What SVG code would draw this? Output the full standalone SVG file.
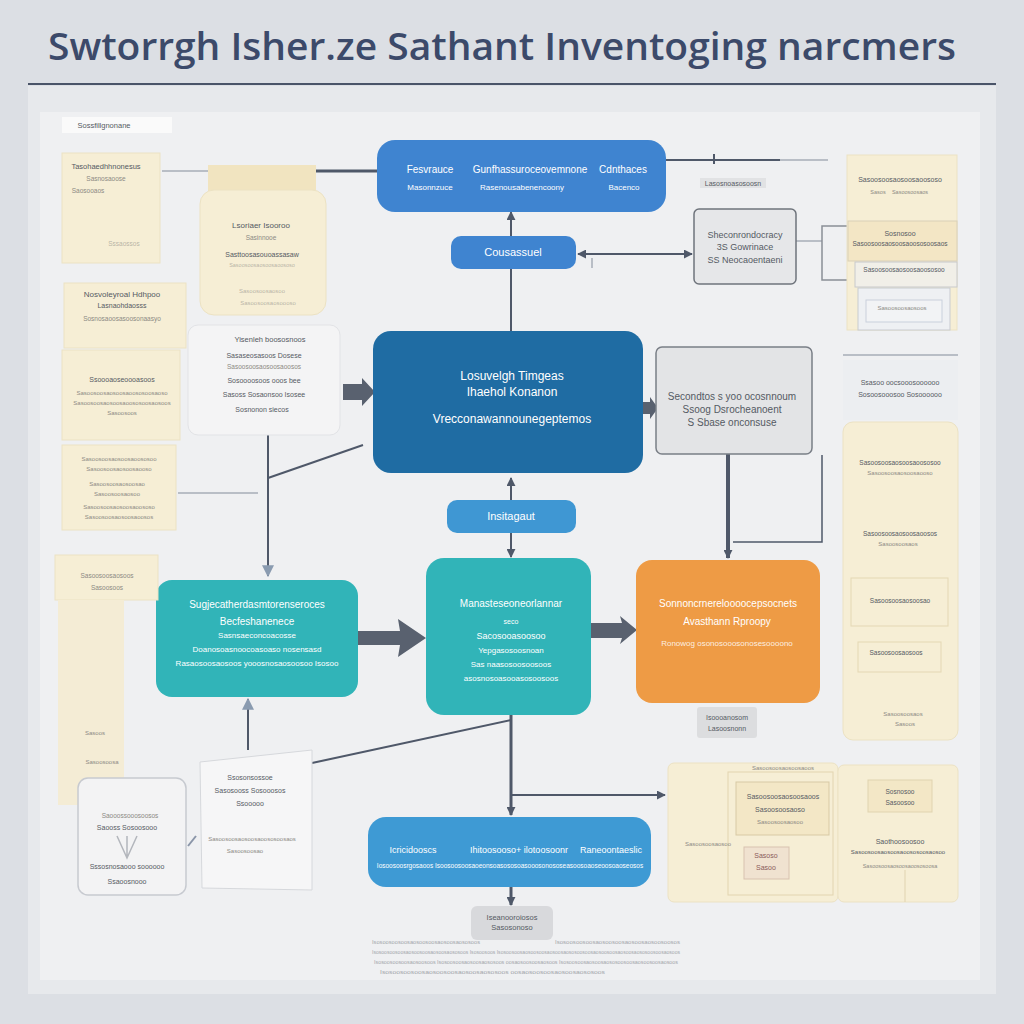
<svg xmlns="http://www.w3.org/2000/svg" width="1024" height="1024" viewBox="0 0 1024 1024">
<defs>
<marker id="ah" viewBox="0 0 10 10" refX="9" refY="5" markerWidth="9" markerHeight="9" markerUnits="userSpaceOnUse" orient="auto-start-reverse"><path d="M0,0 L10,5 L0,10 Z" fill="#4f5869"/></marker>
<marker id="ahl" viewBox="0 0 10 10" refX="9" refY="5" markerWidth="12" markerHeight="12" markerUnits="userSpaceOnUse" orient="auto-start-reverse"><path d="M0,0 L10,5 L0,10 Z" fill="#8a9bb0"/></marker>
</defs>
<style>
.w{font-family:"Liberation Sans",Arial,sans-serif;fill:#ffffff;text-anchor:middle}
.d{font-family:"Liberation Sans",Arial,sans-serif;fill:#555a63;text-anchor:middle}
.f{font-family:"Liberation Sans",Arial,sans-serif;fill:#8c8a84;text-anchor:middle}
.cream{fill:#f6eed5;stroke:#ece2c3;stroke-width:1}
.pale{fill:#f4f4f5;stroke:#e2e3e6;stroke-width:1}
.ln{stroke:#4f5869;stroke-width:2;fill:none}
.lnf{stroke:#b9bec6;stroke-width:2;fill:none}
.blk{fill:#59616f}
</style>
<rect width="1024" height="1024" fill="#dcdfe4"/>
<text x="48" y="60" font-family="'Open Sans','Liberation Sans',sans-serif" font-weight="600" font-size="38" fill="#3c4a6a" textLength="908" lengthAdjust="spacingAndGlyphs">Swtorrgh Isher.ze Sathant Inventoging narcmers</text>
<line x1="28" y1="84" x2="996" y2="84" stroke="#4a5468" stroke-width="2"/>
<rect x="28" y="86" width="968" height="908" fill="#e7e9ec"/>
<rect x="40" y="112" width="940" height="868" fill="#eff0f2"/>

<g id="connectors">
<line class="lnf" x1="162" y1="171" x2="320" y2="171"/>
<line x1="316" y1="171" x2="377" y2="171" stroke="#4f5869" stroke-width="3"/>
<line class="ln" x1="666" y1="160" x2="780" y2="160"/>
<line class="lnf" x1="780" y1="160" x2="828" y2="160"/>
<line class="ln" x1="714" y1="154" x2="714" y2="164"/>
<line class="ln" x1="511" y1="236" x2="511" y2="212" marker-end="url(#ah)" stroke-width="3"/>
<line class="ln" x1="511" y1="269" x2="511" y2="331" stroke-width="3"/>
<line class="ln" x1="578" y1="254" x2="692" y2="254" marker-start="url(#ah)" marker-end="url(#ah)"/>
<line x1="592" y1="258" x2="592" y2="268" stroke="#b9bec6" stroke-width="2"/>
<polyline class="lnf" points="796,241 822,241"/>
<polyline points="850,226 822,226 822,280 850,280" fill="none" stroke="#8b8f96" stroke-width="1.5"/>
<polygon class="blk" points="343,384 362,384 362,378 375,392 362,406 362,400 343,400"/>
<polygon class="blk" points="643,402 650,402 650,397 658,408 650,419 650,414 643,414"/>
<line class="ln" x1="268" y1="435" x2="268" y2="576" marker-end="url(#ahl)"/>
<line class="ln" x1="268" y1="478" x2="363" y2="445"/>
<line class="lnf" x1="178" y1="493" x2="258" y2="493"/>
<line class="ln" x1="511" y1="500" x2="511" y2="478" marker-end="url(#ah)"/>
<line class="ln" x1="511" y1="533" x2="511" y2="557" marker-end="url(#ah)"/>
<polygon class="blk" points="358,631 400,631 398,619 426,638 398,657 400,645 358,645"/>
<polygon class="blk" points="591,623 622,623 620,616 637,630 620,644 622,638 591,638"/>
<line x1="728" y1="454" x2="728" y2="558" stroke="#4f5869" stroke-width="4" marker-end="url(#ah)"/>
<polyline points="822,455 822,542 733,542" fill="none" stroke="#4f5869" stroke-width="1.5"/>
<line x1="248" y1="750" x2="248" y2="699" stroke="#4f5869" stroke-width="2" marker-end="url(#ahl)"/>
<line class="ln" x1="312" y1="763" x2="511" y2="720"/>
<line x1="511" y1="715" x2="511" y2="815" stroke="#4f5869" stroke-width="3" marker-end="url(#ah)"/>
<line class="ln" x1="511" y1="795" x2="665" y2="795" marker-end="url(#ah)"/>
<line x1="511" y1="887" x2="511" y2="905" stroke="#4f5869" stroke-width="3" marker-end="url(#ah)"/>
<line x1="196" y1="836" x2="188" y2="846" stroke="#8a95a8" stroke-width="2"/>
<line class="lnf" x1="843" y1="355" x2="958" y2="355" stroke="#7b8290"/>
</g>

<g id="n-top">
<rect x="377" y="140" width="289" height="72" rx="18" fill="#3f84d0"/>
<text class="w" x="430" y="173" font-size="10">Fesvrauce</text>
<text class="w" x="530" y="173" font-size="10">Gunfhassuroceovemnone</text>
<text class="w" x="623" y="173" font-size="10">Cdnthaces</text>
<text class="w" x="430" y="190" font-size="8">Masonnzuce</text>
<text class="w" x="522" y="190" font-size="8">Rasenousabenencoony</text>
<text class="w" x="624" y="190" font-size="8">Bacenco</text>
</g>
<g id="n-pill1">
<rect x="451" y="236" width="125" height="33" rx="10" fill="#3f84d0"/>
<text class="w" x="513" y="256" font-size="11">Cousassuel</text>
</g>
<g id="n-center">
<rect x="373" y="331" width="270" height="142" rx="18" fill="#1f6ca3"/>
<text class="w" x="512" y="380" font-size="12">Losuvelgh Timgeas</text>
<text class="w" x="512" y="396" font-size="12">Ihaehol Konanon</text>
<text class="w" x="512" y="423" font-size="12">Vrecconawannounegeptemos</text>
</g>
<g id="n-pill2">
<rect x="447" y="500" width="129" height="33" rx="10" fill="#3f97d3"/>
<text class="w" x="511" y="520" font-size="11">Insitagaut</text>
</g>
<g id="n-teal1">
<rect x="156" y="580" width="202" height="117" rx="16" fill="#31b4b8"/>
<text class="w" x="257" y="608" font-size="10">Sugjecatherdasmtorenseroces</text>
<text class="w" x="257" y="625" font-size="10">Becfeshanenece</text>
<text class="w" x="257" y="638" font-size="8">Sasnsaeconcoacosse</text>
<text class="w" x="257" y="652" font-size="8">Doanosoasnoocoasoaso nosensasd</text>
<text class="w" x="257" y="666" font-size="8">Rasaosoosaosoos yooosnosaosoosoo Isosoo</text>
</g>
<g id="n-teal2">
<rect x="426" y="558" width="165" height="157" rx="18" fill="#31b4b8"/>
<text class="w" x="511" y="607" font-size="10">Manasteseoneorlannar</text>
<text class="w" x="511" y="624" font-size="7">seco</text>
<text class="w" x="511" y="639" font-size="9">Sacosooasoosoo</text>
<text class="w" x="511" y="653" font-size="8">Yepgasosoosnoan</text>
<text class="w" x="511" y="667" font-size="8">Sas naasosoosoosoos</text>
<text class="w" x="511" y="681" font-size="8">asosnosoasooasosoosoos</text>
</g>
<g id="n-orange">
<rect x="636" y="560" width="184" height="143" rx="16" fill="#ee9b45"/>
<text class="w" x="728" y="607" font-size="10">Sonnoncrnereloooocepsocnets</text>
<text class="w" x="727" y="625" font-size="10">Avasthann Rproopy</text>
<text class="w" x="727" y="646" font-size="8" fill-opacity="0.85">Ronowog osonosooosonosesoooono</text>
</g>
<g id="n-bottom">
<rect x="368" y="817" width="283" height="70" rx="18" fill="#3e9ad4"/>
<text class="w" x="413" y="853" font-size="9">Icricidooscs</text>
<text class="w" x="519" y="853" font-size="9">Ihitoosooso+ ilotoosoonr</text>
<text class="w" x="611" y="853" font-size="9">Raneoontaeslic</text>
<text class="w" x="510" y="868" font-size="6.5">Iosoosoosrgosaoos  Isoosoosoosaoeonsoasososoasooosonososeasoosoaoseoosoaoseosos</text>
</g>
<g id="n-bottomlabel">
<rect x="471" y="906" width="82" height="34" rx="6" fill="#d8d9dc"/>
<text class="d" x="512" y="920" font-size="7.5">Iseanooroiosos</text>
<text class="d" x="512" y="930" font-size="7.5">Sasosonoso</text>
</g>
<g id="n-notes">
<g font-family="'Liberation Sans',sans-serif" font-size="6" fill="#a3a6ab">
<text x="372" y="944" textLength="108" lengthAdjust="spacingAndGlyphs">Isosoosoosoosaosoosoosaosoosaososoos</text>
<text x="555" y="944" textLength="125" lengthAdjust="spacingAndGlyphs">Isosoosoosoosaosoosoosaosoosaosoosoosos</text>
<text x="372" y="954" textLength="308" lengthAdjust="spacingAndGlyphs">Isosoosoosoosaosoosoosaosoosaososoos Isosoosoos Isosoosoosaosoosoosaosoosaososoosoosaosoosoosaosoosaososoosoosaosoos</text>
<text x="374" y="964" textLength="304" lengthAdjust="spacingAndGlyphs">Isosoosoosoosaosoosoos Isosoosoosaosoosaososoos oosaosoosoosaosoos Isosoosoosaosoosaososoosoosaosoosoosaosoos</text>
<text x="380" y="974" textLength="225" lengthAdjust="spacingAndGlyphs">Isosoosoosoosaosoosoosaosoosaososoos oosaosoosoosaosoosaososoos</text>
</g>
</g>
<g id="n-grayA">
<rect x="694" y="209" width="102" height="75" rx="5" fill="#e6e7e9" stroke="#6f747c" stroke-width="1.5"/>
<text class="d" x="745" y="238" font-size="9">Sheconrondocracy</text>
<text class="d" x="745" y="250" font-size="9">3S Gowrinace</text>
<text class="d" x="745" y="263" font-size="9">SS Neocaoentaeni</text>
</g>
<g id="n-label-r">
<rect x="700" y="178" width="66" height="10" fill="#e1e2e4"/>
<text class="d" x="733" y="186" font-size="7">Lasosnoasosoosn</text>
</g>
<g id="n-grayB">
<rect x="656" y="347" width="156" height="107" rx="6" fill="#e3e4e6" stroke="#7a7f87" stroke-width="1.5"/>
<text class="d" x="732" y="400" font-size="10">Secondtos s yoo ocosnnoum</text>
<text class="d" x="732" y="413" font-size="10">Ssoog Dsrocheanoent</text>
<text class="d" x="732" y="426" font-size="10">S Sbase onconsuse</text>
</g>
<g id="n-orangelabel">
<rect x="697" y="707" width="60" height="31" rx="3" fill="#dcdddf"/>
<text class="d" x="727" y="720" font-size="7">Isoooanosom</text>
<text class="d" x="727" y="731" font-size="7">Lasoosnonn</text>
</g>

<g id="n-leftlabel">
<rect x="62" y="117" width="110" height="16" fill="#fafafa"/>
<text class="d" x="104" y="128" font-size="7.5">Sossfillgnonane</text>
</g>
<g id="n-creamA">
<rect class="cream" x="62" y="153" width="98" height="110"/>
<text class="d" x="106" y="169" font-size="7.5">Tasohaedhhnonesus</text>
<text class="f" x="106" y="181" font-size="6.5">Sasnosaoose</text>
<text class="f" x="88" y="193" font-size="6.5">Saosooaos</text>
<text class="f" x="124" y="246" font-size="6.5" fill-opacity="0.6">Sssaossos</text>
</g>
<g id="n-creamB">
<rect x="208" y="165" width="108" height="28" fill="#f1e4c0"/>
<rect class="cream" x="200" y="190" width="126" height="125" rx="14"/>
<text class="d" x="261" y="228" font-size="8">Lsoriaer Isooroo</text>
<text class="f" x="261" y="240" font-size="6.5">Sasinnooe</text>
<text class="d" x="262" y="257" font-size="7">Sasttoosasouoassasaw</text>
<text class="f" x="262" y="267" font-size="5.5" fill-opacity="0.6">Sasoosoosaosoosaoososo</text>
<text class="f" x="262" y="293" font-size="6" fill-opacity="0.6">Sasoosoosaosoo</text>
<text class="f" x="268" y="305" font-size="6" fill-opacity="0.6">Sasoosoosaosoooso</text>
</g>
<g id="n-creamC">
<rect class="cream" x="64" y="283" width="122" height="65"/>
<text class="d" x="122" y="297" font-size="8">Nosvoleyroal Hdhpoo</text>
<text class="d" x="122" y="308" font-size="7">Lasnaohdaosss</text>
<text class="f" x="122" y="321" font-size="6.5">Sosnosaoosasoosonaasyo</text>
</g>
<g id="n-creamD">
<rect class="cream" x="62" y="350" width="118" height="90"/>
<text class="d" x="122" y="382" font-size="7">Ssoooaoseoooasoos</text>
<text class="f" x="122" y="395" font-size="6">Sasoosoosaosoosaoososoosaoso</text>
<text class="f" x="122" y="405" font-size="6">Sasoosoosaosoosaoososoosaosoos</text>
<text class="f" x="122" y="415" font-size="6">Sasoosoos</text>
</g>
<g id="n-creamE">
<rect class="cream" x="62" y="445" width="114" height="85"/>
<text class="f" x="119" y="461" font-size="6">Sasoosoosaosoosaoososoo</text>
<text class="f" x="119" y="471" font-size="6">Sasoosoosaosoosaooso</text>
<text class="f" x="117" y="486" font-size="6">Sasoosoosaosoosao</text>
<text class="f" x="117" y="496" font-size="6">Sasoosoosaosoo</text>
<text class="f" x="119" y="509" font-size="6">Sasoosoosaosoosaoososo</text>
<text class="f" x="119" y="519" font-size="6">Sasoosoosaosoosaoosos</text>
</g>
<g id="n-whiteF">
<rect class="pale" x="188" y="325" width="152" height="110" rx="10"/>
<text class="d" x="270" y="342" font-size="7.5">Yisenleh boososnoos</text>
<text class="d" x="264" y="358" font-size="7">Sasaseosasoos Dosese</text>
<text class="f" x="264" y="369" font-size="6.5">Sasoosoosaosoosaoosos</text>
<text class="d" x="264" y="383" font-size="7">Sosoooosoos ooos bee</text>
<text class="d" x="264" y="397" font-size="7">Sasoss Sosaonsoo Isosee</text>
<text class="d" x="262" y="412" font-size="7">Sosnonon siecos</text>
</g>
<g id="n-creamG">
<rect class="cream" x="55" y="555" width="103" height="45"/>
<rect x="58" y="600" width="66" height="205" fill="#f4ecd5"/>
<text class="f" x="107" y="578" font-size="6.5">Sasoosoosaosoos</text>
<text class="f" x="107" y="590" font-size="6.5">Sasoosoos</text>
<text class="f" x="95" y="735" font-size="6">Sasoos</text>
<text class="f" x="102" y="764" font-size="6">Sasoosoosa</text>
<text class="f" x="100" y="790" font-size="6">Sasoosoo</text>
</g>
<g id="n-whiteH">
<polygon points="200,762 312,750 312,890 202,888" fill="#f6f6f7" stroke="#d6d8dc" stroke-width="1"/>
<text class="d" x="250" y="780" font-size="7">Ssosonsossoe</text>
<text class="d" x="250" y="793" font-size="7">Sasosooss Sosooosos</text>
<text class="d" x="250" y="806" font-size="7">Ssooooo</text>
<text class="f" x="252" y="841" font-size="6">Sasoosoosaosoosaoososoosaos</text>
<text class="f" x="245" y="853" font-size="6">Sasoosoosao</text>
</g>
<g id="n-boxI">
<rect x="78" y="778" width="108" height="117" rx="10" fill="#f3f3f4" stroke="#c7cad0" stroke-width="1.5"/>
<text class="f" x="130" y="818" font-size="6.5">Saooossooosoosos</text>
<text class="d" x="127" y="830" font-size="7">Saooss Sosoosooo</text>
<path d="M117,836 L127,858 L137,836 M127,836 L127,858" fill="none" stroke="#b3b6bc" stroke-width="1.5"/>
<text class="d" x="127" y="869" font-size="7">Sssosnosaooo soooooo</text>
<text class="d" x="127" y="884" font-size="7">Ssaoosnooo</text>
</g>

<g id="n-rightJ">
<rect class="cream" x="847" y="155" width="110" height="175"/>
<text class="d" x="900" y="182" font-size="7">Sasoosoosaosoosaoososo</text>
<text class="f" x="878" y="194" font-size="5.5">Sasos</text>
<text class="f" x="910" y="194" font-size="5.5">Sasoosoosaos</text>
<rect x="848" y="221" width="109" height="40" fill="#f3e6c5" stroke="#d9d0b8" stroke-width="1"/>
<text class="d" x="900" y="236" font-size="7">Sosnosoo</text>
<text class="d" x="900" y="246" font-size="6.5">Sasoosoosaosoosaoososoosaos</text>
<rect x="855" y="262" width="102" height="25" fill="#f1efe8" stroke="#c8c9cc" stroke-width="1"/>
<text class="d" x="904" y="272" font-size="6.5">Sasoosoosaosoosaoososoo</text>
<rect x="858" y="288" width="92" height="42" fill="#eef0f3" stroke="#c8cbd0" stroke-width="1"/>
<rect x="866" y="300" width="76" height="22" fill="#f2f3f5" stroke="#c9d0dc" stroke-width="1"/>
<text class="f" x="902" y="310" font-size="6">Sasoosoosaosoos</text>
</g>
<g id="n-rightK">
<rect x="843" y="360" width="115" height="60" fill="#eceef1"/>
<text class="d" x="900" y="385" font-size="7">Ssasoo oocsooosoooooo</text>
<text class="d" x="900" y="397" font-size="7">Sosoosooosoo Sosoooooo</text>
</g>
<g id="n-rightL">
<rect class="cream" x="843" y="422" width="115" height="318" rx="10"/>
<text class="d" x="900" y="465" font-size="6.5">Sasoosoosaosoosaoososoo</text>
<text class="f" x="900" y="475" font-size="6">Sasoosoosaosoosaooso</text>
<text class="d" x="900" y="536" font-size="6.5">Sasoosoosaosoosaoosos</text>
<text class="f" x="898" y="546" font-size="6">Sasoosoosaos</text>
<rect x="851" y="578" width="97" height="48" fill="none" stroke="#e4d7b4" stroke-width="1"/>
<text class="d" x="900" y="603" font-size="6.5">Sasoosoosaosoosao</text>
<rect x="858" y="642" width="83" height="30" fill="none" stroke="#e4d7b4" stroke-width="1"/>
<text class="d" x="896" y="655" font-size="6.5">Sasoosoosaosoos</text>
<text class="f" x="903" y="716" font-size="6">Sasoosoosaos</text>
<text class="f" x="905" y="726" font-size="6">Sasoos</text>
</g>
<g id="n-rightM">
<rect class="cream" x="668" y="763" width="170" height="139" rx="6"/>
<rect x="728" y="772" width="105" height="123" fill="none" stroke="#e2d4b0" stroke-width="1"/>
<rect x="736" y="782" width="93" height="53" fill="#f3e7c6" stroke="#d8c9a5" stroke-width="1"/>
<text class="d" x="783" y="799" font-size="7">Sasoosoosaosoosaoos</text>
<text class="d" x="780" y="812" font-size="7">Sasoosoosaoso</text>
<text class="f" x="780" y="824" font-size="6">Sasoosoosaosoo</text>
<rect x="744" y="847" width="45" height="32" fill="#f0e2d0" stroke="#d8c2b0" stroke-width="1"/>
<text x="766" y="858" font-size="7" font-family="'Liberation Sans',sans-serif" fill="#8a5a5a" text-anchor="middle">Sasoso</text>
<text x="766" y="870" font-size="7" font-family="'Liberation Sans',sans-serif" fill="#8a5a5a" text-anchor="middle">Sasoo</text>
<text class="f" x="708" y="846" font-size="6">Sasoosoosaosoo</text>
<text class="f" x="783" y="770" font-size="6">Sasoosoosaosoosaoos</text>
</g>
<g id="n-rightN">
<rect class="cream" x="838" y="765" width="120" height="137" rx="6"/>
<rect x="868" y="780" width="64" height="32" fill="#f3e7c6" stroke="#e0d3b0" stroke-width="1"/>
<text class="d" x="900" y="794" font-size="6.5">Sosnosoo</text>
<text class="d" x="900" y="805" font-size="6.5">Sasoosoo</text>
<text class="d" x="900" y="844" font-size="7">Saothoosoosoo</text>
<text class="d" x="898" y="854" font-size="6">Sasoosoosaosoosaoososoosaosoo</text>
<text class="f" x="900" y="868" font-size="5.5">Sasoosoosaosoosaoososoosa</text>
<line x1="905" y1="870" x2="905" y2="902" stroke="#e0d3b0" stroke-width="1"/>
</g>
</svg>
